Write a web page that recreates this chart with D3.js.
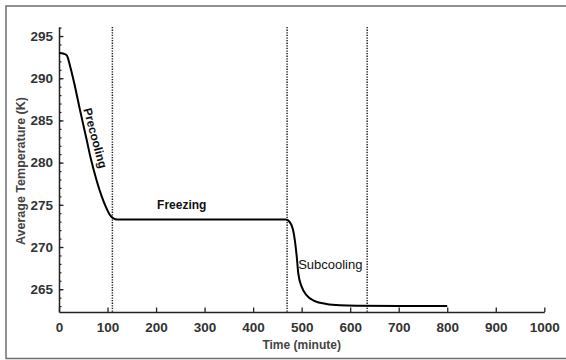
<!DOCTYPE html>
<html>
<head>
<meta charset="utf-8">
<script src="https://cdn.jsdelivr.net/npm/d3@7"></script>
<style>
  body { margin: 0; background: #fff; }
  text { font-family: "Liberation Sans", Arial, sans-serif; }
</style>
</head>
<body>
<div id="chart"></div>
<script>
// time (minute) and average temperature (K)
const time = [0, 10, 16, 23, 33, 43, 50, 57, 65, 78, 88, 97, 105, 112, 120, 200, 300, 400, 467,
              475, 482, 486, 490, 493, 500, 510, 527, 551, 579, 620, 700, 800];
const temp = [293.0, 292.9, 292.7, 291.4, 289.0, 286.3, 284.5, 282.7, 280.6, 277.8, 276.0, 274.7, 273.8, 273.4, 273.27, 273.25, 273.25, 273.25, 273.25,
              273.0, 272.1, 270.8, 268.8, 266.9, 265.3, 264.3, 263.6, 263.25, 263.1, 263.05, 263.02, 263.0];

const phaseLines = [110, 470, 635];
const xTicks = [0, 100, 200, 300, 400, 500, 600, 700, 800, 900, 1000];
const yTicks = [265, 270, 275, 280, 285, 290, 295];
const phaseLabels = [
    { text: "Precooling", t: 75, T: 282.9, angle: 75, weight: "bold", size: 12 },
    { text: "Freezing", t: 253, T: 275.0, angle: 0, weight: "bold", size: 12 },
    { text: "Subcooling", t: 559, T: 267.9, angle: 0, weight: "normal", size: 13 }
];

const width = 566, height = 360;

const svg = d3.select("#chart").append("svg")
    .attr("width", width)
    .attr("height", height);

// outer frame
svg.append("rect")
    .attr("x", 6).attr("y", 6)
    .attr("width", 600).attr("height", 352.5)
    .attr("fill", "none")
    .attr("stroke", "#6e6e6e")
    .attr("stroke-width", 1.5);

const x = d3.scaleLinear().domain([0, 1000]).range([59, 544.3]);
const y = d3.scaleLinear().domain([262.3, 296.07]).range([312, 27]);

// dotted phase boundaries
svg.selectAll(".phase")
    .data(phaseLines)
    .enter().append("line")
    .attr("class", "phase")
    .attr("x1", d => x(d)).attr("x2", d => x(d))
    .attr("y1", y.range()[1]).attr("y2", y.range()[0])
    .attr("stroke", "#222")
    .attr("stroke-width", 1.5)
    .attr("stroke-dasharray", "1.3,1.3");

// y axis minor ticks
svg.append("g")
    .attr("transform", `translate(${x(0)},0)`)
    .call(d3.axisLeft(y).tickValues(d3.range(263, 297, 1)).tickSizeInner(-2.5).tickSizeOuter(0).tickFormat(""))
    .call(g => g.select(".domain").remove())
    .call(g => g.selectAll("line").attr("stroke", "#222").attr("stroke-width", 1.2));

// y axis
svg.append("g")
    .attr("transform", `translate(${x(0)},0)`)
    .call(d3.axisLeft(y).tickValues(yTicks).tickSizeInner(-4.5).tickSizeOuter(0).tickPadding(6))
    .call(g => g.select(".domain").attr("stroke", "#222").attr("stroke-width", 1.5))
    .call(g => g.selectAll("line").attr("stroke", "#222").attr("stroke-width", 1.3))
    .call(g => g.selectAll("text")
        .attr("fill", "#333")
        .style("font-size", "13.5px")
        .style("font-weight", "bold"));

// x axis
svg.append("g")
    .attr("transform", `translate(0,${y(262.3)})`)
    .call(d3.axisBottom(x).tickValues(xTicks).tickFormat(d3.format("d"))
        .tickSizeInner(-4.5).tickSizeOuter(0).tickPadding(10))
    .call(g => g.select(".domain").attr("stroke", "#222").attr("stroke-width", 1.5))
    .call(g => g.selectAll("line").attr("stroke", "#222").attr("stroke-width", 1.3))
    .call(g => g.selectAll("text")
        .attr("fill", "#333")
        .style("font-size", "13.5px")
        .style("font-weight", "bold"));

// axis titles
svg.append("text")
    .attr("x", (x(0) + x(1000)) / 2)
    .attr("y", 349)
    .attr("text-anchor", "middle")
    .attr("fill", "#444")
    .style("font-size", "12px")
    .style("font-weight", "bold")
    .text("Time (minute)");

svg.append("text")
    .attr("transform", `translate(25,171) rotate(-90)`)
    .attr("text-anchor", "middle")
    .attr("fill", "#444")
    .style("font-size", "12.5px")
    .style("font-weight", "bold")
    .text("Average Temperature (K)");

// temperature curve
const points = time.map((t, i) => [t, temp[i]]);
const line = d3.line()
    .x(d => x(d[0]))
    .y(d => y(d[1]))
    .curve(d3.curveMonotoneX);

svg.append("path")
    .datum(points)
    .attr("d", line)
    .attr("fill", "none")
    .attr("stroke", "#000")
    .attr("stroke-width", 2);

// phase labels
svg.selectAll(".plabel")
    .data(phaseLabels)
    .enter().append("text")
    .attr("class", "plabel")
    .attr("transform", d => `translate(${x(d.t)},${y(d.T)}) rotate(${d.angle})`)
    .attr("text-anchor", "middle")
    .attr("dy", "0.35em")
    .attr("fill", "#111")
    .style("font-size", d => d.size + "px")
    .style("font-weight", d => d.weight)
    .text(d => d.text);
</script>
</body>
</html>
